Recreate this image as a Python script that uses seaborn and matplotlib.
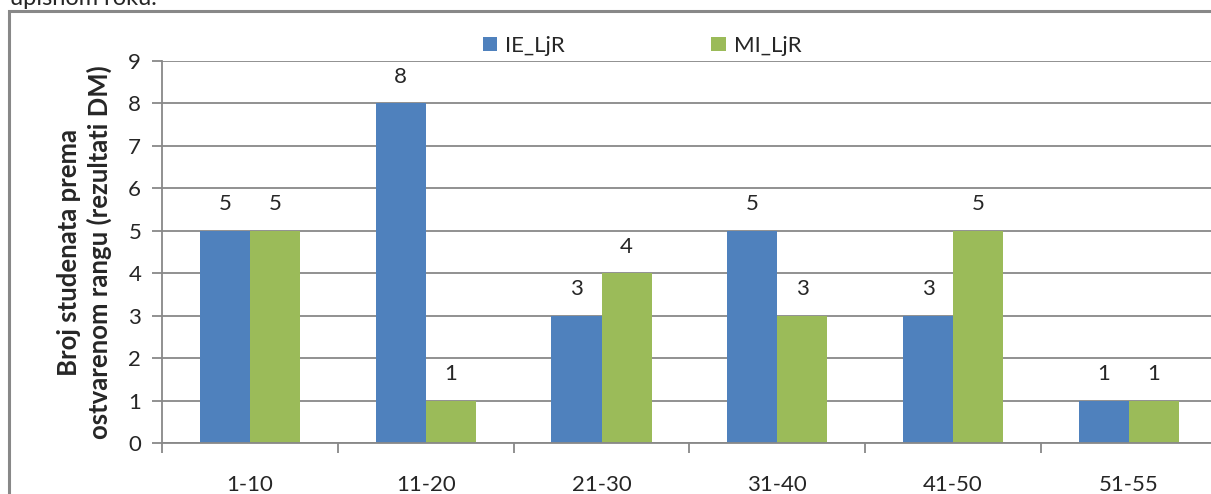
import pandas as pd
import seaborn as sns
import matplotlib.pyplot as plt
from matplotlib.patches import Rectangle

# podaci s grafikona
categories = ["1-10", "11-20", "21-30", "31-40", "41-50", "51-55"]
ie_ljr = [5, 8, 3, 5, 3, 1]
mi_ljr = [5, 1, 4, 3, 5, 1]
series_names = ["IE_LjR", "MI_LjR"]
colors = ["#4F81BD", "#9BBB59"]

df = pd.DataFrame({
    "Rang": categories * 2,
    "Broj": ie_ljr + mi_ljr,
    "Grupa": [series_names[0]] * len(categories) + [series_names[1]] * len(categories),
})

sns.set_style("white")
plt.rcParams["font.family"] = ["Lato", "DejaVu Sans"]
FS = 16

fig = plt.figure(figsize=(12.11, 4.94), dpi=100)
ax = fig.add_axes([0.1338, 0.1032, 0.871, 0.7733])

sns.barplot(data=df, x="Rang", y="Broj", hue="Grupa", palette=colors,
            width=0.57, saturation=1, linewidth=0, ax=ax, legend=True)

ax.set_ylim(0, 9)
ax.set_xlim(-0.5, 5.5)
ax.set_yticks(range(0, 10))
ax.yaxis.grid(True, color="#888888", linewidth=1.3)
ax.set_axisbelow(True)
for s in ["top", "right"]:
    ax.spines[s].set_visible(False)
for s in ["left", "bottom"]:
    ax.spines[s].set_color("#888888")
    ax.spines[s].set_linewidth(1.3)

ax.tick_params(axis="y", length=7, width=1.3, color="#888888", labelsize=FS,
               left=True, pad=8)
ax.tick_params(axis="x", which="major", length=0, labelsize=FS, pad=23)
ax.set_xticks([i + 0.5 for i in range(-1, 6)], minor=True)
ax.tick_params(axis="x", which="minor", length=7, width=1.3, color="#888888",
               bottom=True)

# oznake vrijednosti
for cont in ax.containers:
    ax.bar_label(cont, padding=12, fontsize=FS)

ax.set_xlabel("")
ax.set_ylabel("Broj studenata prema\nostvarenom rangu (rezultati DM)",
              fontsize=18.5, fontweight="bold", labelpad=12, linespacing=1.25)

leg = ax.legend(loc="center", bbox_to_anchor=(0.455, 1.04), ncol=2,
                frameon=False, fontsize=FS, handlelength=0.65, handleheight=0.65,
                columnspacing=6.6, handletextpad=0.35, borderaxespad=0)

# okvir i odrezani tekst iznad
fig.patches.append(Rectangle((9 / 1211, -0.1), 1.2, 1 - 11 / 494 + 0.1,
                             transform=fig.transFigure, fill=False,
                             edgecolor="#888888", linewidth=2.2))
fig.text(10 / 1211, 1 - 5 / 494, "upisnom roku.", fontsize=17,
         ha="left", va="baseline")

fig.savefig("out.png", dpi=100)
